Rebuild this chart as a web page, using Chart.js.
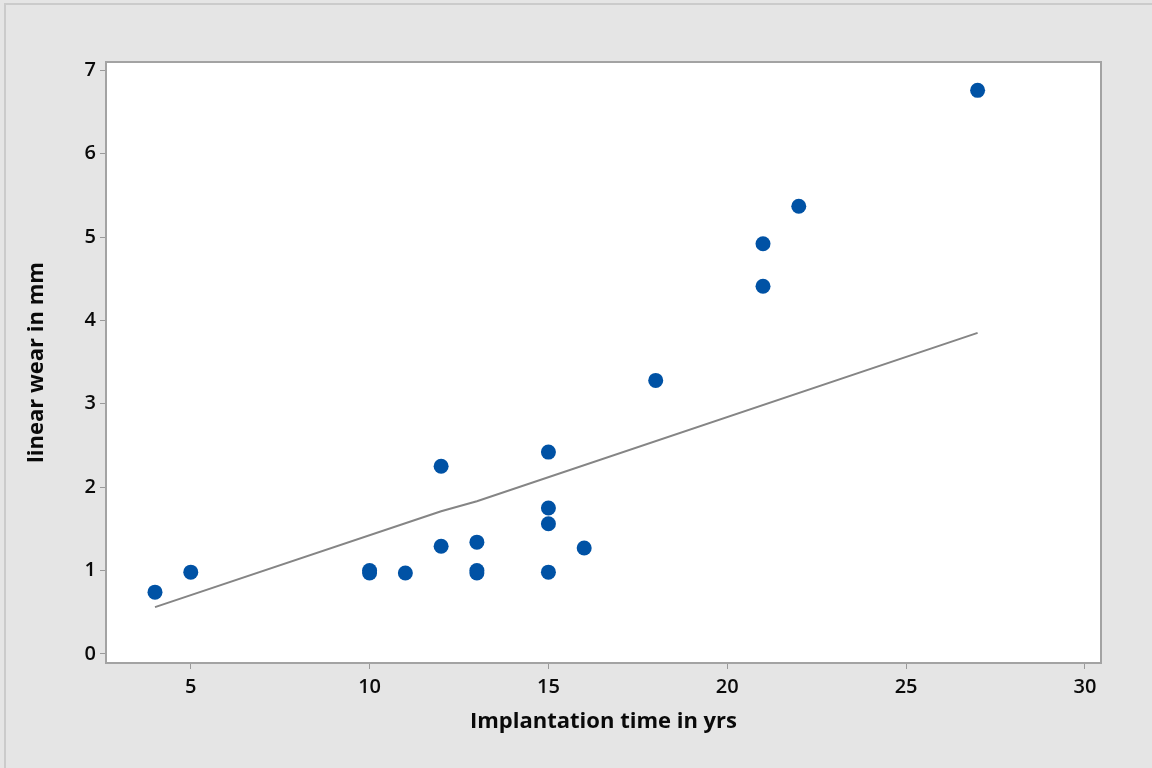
<!DOCTYPE html>
<html>
<head>
<meta charset="utf-8">
<script src="https://cdn.jsdelivr.net/npm/chart.js@4"></script>
<style>
    html, body { margin: 0; padding: 0; background: #e5e5e5; }
    #wrap { width: 1152px; height: 768px; }
</style>
</head>
<body>
<div id="wrap"><canvas id="wearChart" width="1152" height="768"></canvas></div>
<script>
// observed data
const implantYears = [4, 5, 10, 10, 11, 12, 12, 13, 13, 13, 15, 15, 15, 15, 16, 18, 21, 21, 22, 27];
const linearWear = [0.74, 0.98, 1.00, 0.97, 0.97, 1.29, 2.25, 1.34, 1.00, 0.97, 2.42, 1.75, 1.56, 0.98, 1.27, 3.28, 4.92, 4.41, 5.37, 6.76];

// fitted line as drawn
const fitYears = [4, 12, 13, 27];
const fitWear = [0.56, 1.71, 1.83, 3.85];

// tick labels
const xTicks = [5, 10, 15, 20, 25, 30];
const yTicks = [0, 1, 2, 3, 4, 5, 6, 7];

const FONT = "'Open Sans', 'Noto Sans', sans-serif";

// background + outer frame + plot frame
const framePlugin = {
    id: "frame",
    beforeDraw(chart) {
        const ctx = chart.ctx;
        ctx.save();
        ctx.fillStyle = "#e5e5e5";
        ctx.fillRect(0, 0, chart.width, chart.height);
        ctx.strokeStyle = "#cbcbcb";
        ctx.lineWidth = 2;
        ctx.strokeRect(5, 4, chart.width + 10, chart.height + 10);
        const a = chart.chartArea;
        ctx.fillStyle = "#ffffff";
        ctx.fillRect(a.left, a.top, a.right - a.left, a.bottom - a.top);
        ctx.restore();
    },
    afterDatasetsDraw(chart) {
        const ctx = chart.ctx;
        const a = chart.chartArea;
        ctx.save();
        ctx.strokeStyle = "#a3a3a3";
        ctx.lineWidth = 2;
        ctx.strokeRect(a.left, a.top, a.right - a.left, a.bottom - a.top);
        ctx.restore();
    },
};

new Chart(document.getElementById("wearChart"), {
    type: "scatter",
    data: {
        datasets: [
            {
                label: "Fit",
                type: "line",
                data: fitYears.map((x, i) => ({ x: x, y: fitWear[i] })),
                borderColor: "#858585",
                borderWidth: 2,
                pointRadius: 0,
                fill: false,
                tension: 0,
                order: 2,
            },
            {
                label: "linear wear",
                data: implantYears.map((x, i) => ({ x: x, y: linearWear[i] })),
                backgroundColor: "#0052a5",
                borderColor: "#0052a5",
                borderWidth: 0,
                pointRadius: 7.5,
                pointHoverRadius: 7.5,
                order: 1,
            },
        ],
    },
    options: {
        responsive: false,
        animation: false,
        layout: { padding: { left: 0, right: 51, top: 62, bottom: 0 } },
        plugins: {
            legend: { display: false },
            tooltip: { enabled: false },
        },
        scales: {
            x: {
                type: "linear",
                min: 2.63,
                max: 30.45,
                afterBuildTicks: scale => { scale.ticks = xTicks.map(v => ({ value: v })); },
                afterFit: scale => { scale.height = 105; },
                grid: { display: true, drawOnChartArea: false, drawTicks: true, tickLength: 6, color: "#9a9a9a" },
                border: { display: false },
                ticks: { color: "#0a0a0a", padding: 6, font: { family: FONT, size: 20, weight: "600" } },
                title: {
                    display: true,
                    text: "Implantation time in yrs",
                    color: "#0a0a0a",
                    font: { family: FONT, size: 22, weight: "bold" },
                    padding: { top: 0, bottom: 33 },
                },
            },
            y: {
                type: "linear",
                min: -0.11,
                max: 7.1,
                afterBuildTicks: scale => { scale.ticks = yTicks.map(v => ({ value: v })); },
                afterFit: scale => { scale.width = 106; },
                grid: { display: true, drawOnChartArea: false, drawTicks: true, tickLength: 6, color: "#9a9a9a" },
                border: { display: false },
                ticks: { color: "#0a0a0a", padding: 4, font: { family: FONT, size: 20, weight: "600" } },
                title: {
                    display: true,
                    text: "linear wear in mm",
                    color: "#0a0a0a",
                    font: { family: FONT, size: 22, weight: "bold" },
                    padding: { top: 24, bottom: 0 },
                },
            },
        },
    },
    plugins: [framePlugin],
});
</script>
</body>
</html>
